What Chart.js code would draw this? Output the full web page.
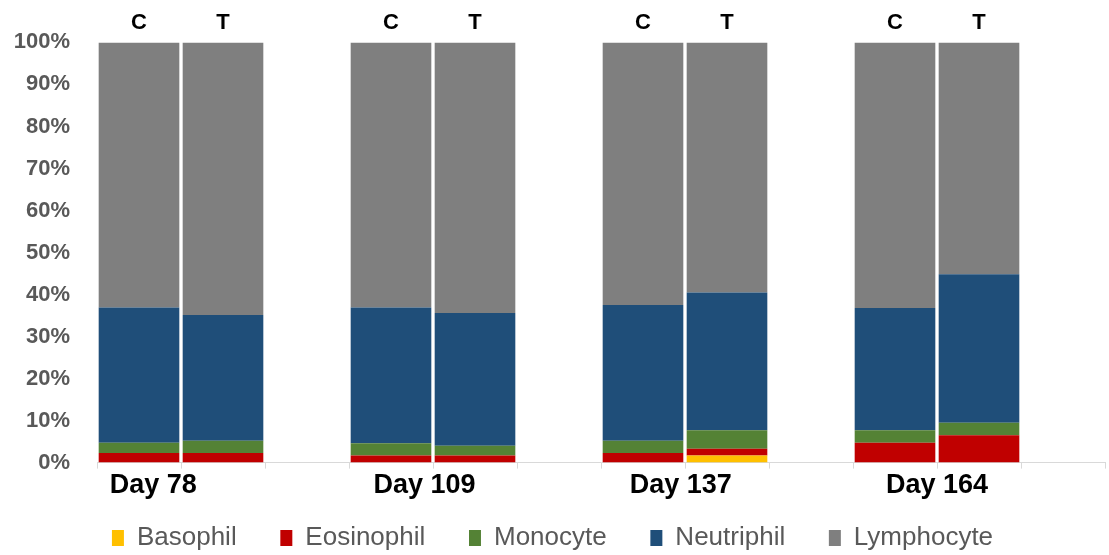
<!DOCTYPE html>
<html>
<head>
<meta charset="utf-8">
<script src="https://cdn.jsdelivr.net/npm/chart.js@4.4.0/dist/chart.umd.min.js"></script>
<style>
html, body { margin: 0; padding: 0; background: #fff; }
#wrap { width: 1109px; height: 555px; }
</style>
</head>
<body>
<div id="wrap"><canvas id="chart"></canvas></div>
<script>
// bars in order: C78, T78, C109, T109, C137, T137, C164, T164
var days = ["Day 78", "Day 109", "Day 137", "Day 164"];
var groupLabels = ["C", "T"];
var basophil   = [0, 0, 0, 0, 0, 1.7, 0, 0];
var eosinophil = [2.3, 2.3, 1.7, 1.7, 2.3, 1.6, 4.7, 6.5];
var monocyte   = [2.4, 2.9, 2.9, 2.3, 2.9, 4.4, 3.0, 3.0];
var neutriphil = [32.2, 29.9, 32.3, 31.6, 32.3, 32.8, 29.1, 35.3];
var lymphocyte = [63.1, 64.9, 63.1, 64.4, 62.5, 59.5, 63.2, 55.2];
var yTicks = [0, 10, 20, 30, 40, 50, 60, 70, 80, 90, 100];

// each day gets C, T and an empty slot
function toSlots(arr) {
	var out = [];
	for (var i = 0; i < arr.length; i += 2) {
		out.push(arr[i], arr[i + 1], null);
	}
	return out;
}

var slotLabels = [];
for (var d = 0; d < days.length; d++) {
	slotLabels.push(groupLabels[0], groupLabels[1], "");
}

// where the day names sit along the 12 slots
var dayPos = [0.67, 3.9, 6.95, 10.0];

function dataset(label, values, color) {
	return {
		label: label,
		data: toSlots(values),
		backgroundColor: color,
		borderWidth: 0,
		barPercentage: 0.96,
		categoryPercentage: 1
	};
}

var ctx = document.getElementById("chart");

var chart = new Chart(ctx, {
	type: "bar",
	data: {
		labels: slotLabels,
		datasets: [
			dataset("Basophil", basophil, "#FFC000"),
			dataset("Eosinophil", eosinophil, "#C00000"),
			dataset("Monocyte", monocyte, "#548235"),
			dataset("Neutriphil", neutriphil, "#1F4E79"),
			dataset("Lymphocyte", lymphocyte, "#7F7F7F")
		]
	},
	options: {
		responsive: true,
		maintainAspectRatio: false,
		animation: false,
		layout: { padding: { top: 4, right: 4, left: 0, bottom: 0 } },
		plugins: {
			tooltip: { enabled: false },
			legend: {
				display: true,
				position: "bottom",
				maxHeight: 52,
				labels: {
					boxWidth: 12,
					boxHeight: 16,
					padding: 22,
					color: "#595959",
					font: { family: "Liberation Sans", size: 26 },
					// a little extra room after each name, like the original
					generateLabels: function(c) {
						var items = Chart.defaults.plugins.legend.labels.generateLabels(c);
						for (var i = 0; i < items.length - 1; i++) {
							items[i].text += "   ";
						}
						return items;
					}
				}
			}
		},
		scales: {
			x: {
				type: "category",
				stacked: true,
				position: "bottom",
				offset: true,
				grid: {
					display: true,
					offset: true,
					drawOnChartArea: false,
					drawTicks: true,
					tickLength: 6,
					color: "#D9D9D9"
				},
				border: { display: true, color: "#D9D9D9", width: 1 },
				ticks: { display: false }
			},
			xDay: {
				type: "linear",
				position: "bottom",
				offset: false,
				min: 0,
				max: 12,
				afterBuildTicks: function(axis) {
					axis.ticks = dayPos.map(function(v) { return { value: v }; });
				},
				ticks: {
					autoSkip: false,
					maxRotation: 0,
					padding: 1,
					color: "#000",
					font: { family: "Liberation Sans", size: 27, weight: "bold" },
					callback: function(value, index) { return days[index]; }
				},
				grid: { display: false, drawTicks: false },
				border: { display: false }
			},
			xTop: {
				type: "category",
				position: "top",
				labels: slotLabels,
				offset: true,
				ticks: {
					autoSkip: false,
					maxRotation: 0,
					padding: 6,
					color: "#000",
					font: { family: "Liberation Sans", size: 22, weight: "bold" }
				},
				grid: { display: false, drawTicks: false },
				border: { display: false }
			},
			y: {
				stacked: true,
				min: 0,
				max: 100,
				afterBuildTicks: function(axis) {
					axis.ticks = yTicks.map(function(v) { return { value: v }; });
				},
				afterFit: function(axis) { axis.width = 97; },
				ticks: {
					padding: 27,
					color: "#595959",
					font: { family: "Liberation Sans", size: 22, weight: "bold" },
					callback: function(value) { return value + "%"; }
				},
				grid: { display: false, drawTicks: false },
				border: { display: false }
			}
		}
	}
});
</script>
</body>
</html>
